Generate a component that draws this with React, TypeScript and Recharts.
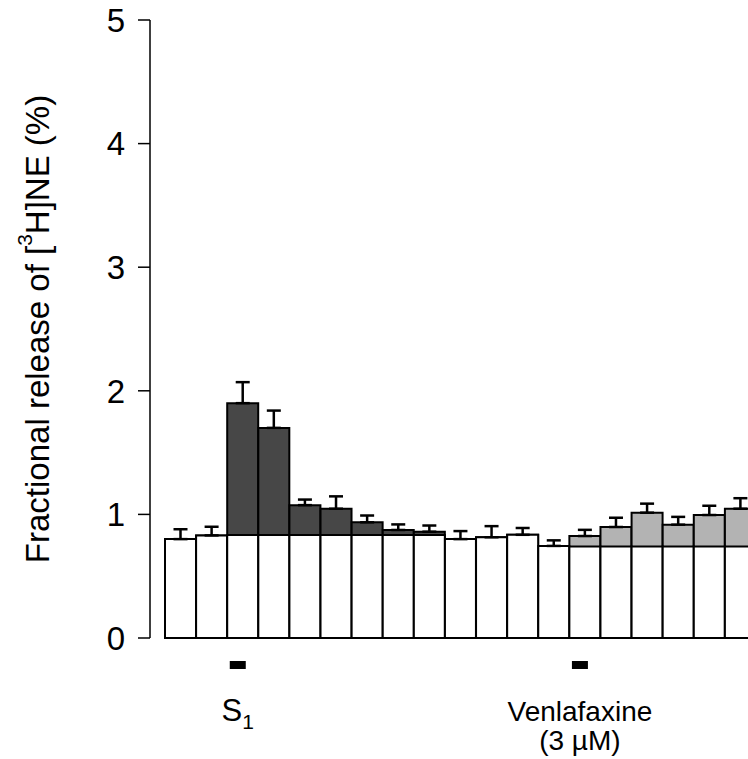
import React from "react";
import { BarChart, Bar, XAxis, YAxis, ErrorBar, Cell } from "recharts";

const fractions = [
  "1", "2", "3", "4", "5", "6", "7", "8", "9", "10",
  "11", "12", "13", "14", "15", "16", "17", "18", "19",
];
// basal outflow (white part of each bar)
const basalRelease = [
  0.8, 0.83, 0.833, 0.833, 0.833, 0.833, 0.833, 0.833, 0.833, 0.8,
  0.815, 0.835, 0.745, 0.74, 0.74, 0.74, 0.74, 0.74, 0.74,
];
// total fractional release (top of bar)
const totalRelease = [
  0.8, 0.83, 1.9, 1.7, 1.075, 1.046, 0.936, 0.874, 0.86, 0.8,
  0.815, 0.835, 0.745, 0.825, 0.898, 1.014, 0.917, 0.995, 1.046,
];
const releaseSem = [
  0.08, 0.07, 0.17, 0.14, 0.045, 0.1, 0.055, 0.045, 0.05, 0.065,
  0.09, 0.055, 0.045, 0.05, 0.075, 0.073, 0.063, 0.075, 0.085,
];
const fractionPhase = [
  "basal", "basal", "s1", "s1", "s1", "s1", "s1", "s1", "s1", "basal",
  "basal", "basal", "basal", "drug", "drug", "drug", "drug", "drug", "drug",
];
const yTicks = [0, 1, 2, 3, 4, 5];
const stimuli = [
  { fraction: "3", lines: ["S"], sub: "1" },
  { fraction: "14", lines: ["Venlafaxine", "(3 \u00b5M)"], sub: "" },
];

const phaseFill: Record<string, string> = {
  basal: "#ffffff",
  s1: "#474747",
  drug: "#b3b3b3",
};

const font = "'Liberation Sans', Arial, Helvetica, sans-serif";

const data = fractions.map((f, i) => ({
  fraction: f,
  basal: basalRelease[i],
  total: totalRelease[i],
  sem: [0, releaseSem[i]],
}));

function StimulusTick(props: any) {
  const { x, y, payload } = props;
  const s = stimuli.find((st) => st.fraction === payload.value);
  if (!s) return <g />;
  return (
    <g fontFamily={font} fill="#000">
      <rect x={x - 13} y={y - 7} width={16} height={8} fill="#000" />
      {s.lines.map((line, i) => (
        <text
          key={line}
          x={x - 5}
          y={y + 53 + i * 29}
          textAnchor="middle"
          fontSize={s.sub ? 31 : 28}
        >
          {line}
          {s.sub ? (
            <tspan dy={8} fontSize={21}>
              {s.sub}
            </tspan>
          ) : null}
        </text>
      ))}
    </g>
  );
}

function YLabel(props: any) {
  const { viewBox } = props;
  const cx = 37;
  const cy = viewBox.y + viewBox.height / 2;
  return (
    <text
      x={cx}
      y={cy}
      transform={`rotate(-90 ${cx} ${cy})`}
      textAnchor="middle"
      dominantBaseline="central"
      fontSize={33}
      fontFamily={font}
      fill="#000"
    >
      Fractional release of [
      <tspan dy={-13} fontSize={21}>
        3
      </tspan>
      <tspan dy={13}>H]NE (%)</tspan>
    </text>
  );
}

export default function App() {
  return (
    <div
      style={{
        position: "absolute",
        left: 0,
        top: 0,
        width: 748,
        height: 759,
        overflow: "hidden",
        background: "#fff",
      }}
    >
      <BarChart
        width={756}
        height={759}
        data={data}
        margin={{ top: 20, right: 0, bottom: 0, left: 0 }}
        barCategoryGap={0}
        barGap={0}
      >
        <XAxis
          xAxisId="main"
          dataKey="fraction"
          height={121}
          axisLine={false}
          tickLine={false}
          tickSize={0}
          tickMargin={0}
          interval={0}
          padding={{ left: 15, right: 0 }}
          tick={<StimulusTick />}
        />
        <XAxis
          xAxisId="basal"
          dataKey="fraction"
          hide
          padding={{ left: 15, right: 0 }}
        />
        <YAxis
          width={150}
          domain={[0, 5]}
          ticks={yTicks}
          tickSize={12}
          tickMargin={13}
          axisLine={{ stroke: "#000", strokeWidth: 1.5 }}
          tickLine={{ stroke: "#000", strokeWidth: 1.5 }}
          tick={{ fontSize: 33, fill: "#000", fontFamily: font }}
          label={YLabel}
        />
        <Bar
          xAxisId="main"
          dataKey="total"
          stroke="#000"
          strokeWidth={2}
          isAnimationActive={false}
        >
          {data.map((d, i) => (
            <Cell key={d.fraction} fill={phaseFill[fractionPhase[i]]} />
          ))}
          <ErrorBar
            dataKey="sem"
            direction="y"
            width={7}
            stroke="#000"
            strokeWidth={2.5}
          />
        </Bar>
        <Bar
          xAxisId="basal"
          dataKey="basal"
          fill="#fff"
          stroke="#000"
          strokeWidth={2}
          isAnimationActive={false}
        />
      </BarChart>
    </div>
  );
}
